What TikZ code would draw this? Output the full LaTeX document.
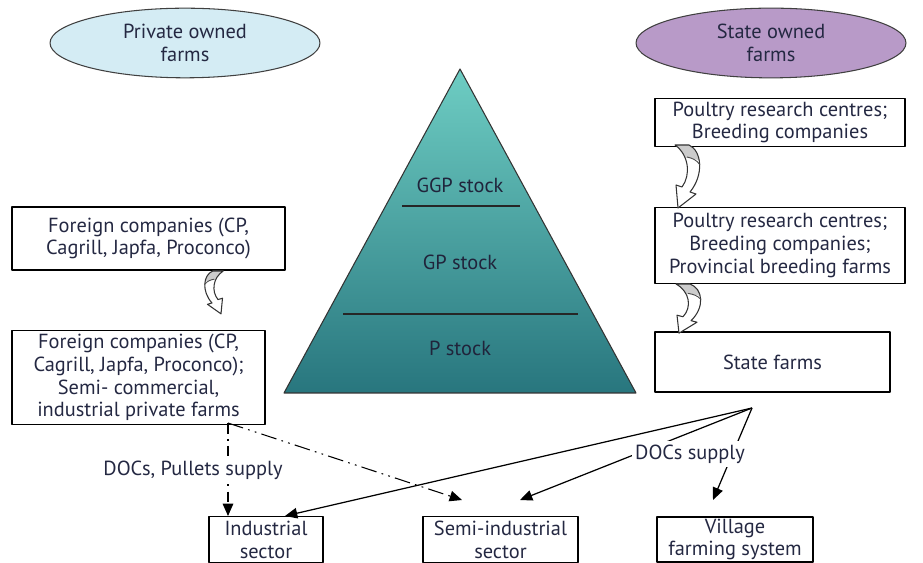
\documentclass[tikz,border=0pt]{standalone}
\usepackage{fontspec}
\setmainfont{PT Sans}
\usetikzlibrary{arrows.meta,shapes.geometric}
\definecolor{ink}{RGB}{36,40,66}
\definecolor{skyfill}{RGB}{212,236,244}
\definecolor{lilac}{RGB}{184,154,200}
\definecolor{tealtop}{RGB}{110,205,195}
\definecolor{tealmid}{RGB}{34,182,170}
\definecolor{tealbot}{RGB}{40,118,126}
% curled block arrow between two boxes
\tikzset{
  curlarrow/.pic={
    \begin{scope}
      \clip (7,0) .. controls (20,6) and (22,30) .. (8,47) -- (14,49) -- (-4,63)
        -- (-6,40) -- (0,42) .. controls (9,30) and (7,10) .. (-7,0) -- cycle;
      \fill[white] (-12,-2) rectangle (30,64);
      \fill[gray!40] (-12,-2) -- (30,-2) -- (30,22) .. controls (16,12) and (6,13) .. (-12,12) -- cycle;
    \end{scope}
    \draw[line width=0.6pt, black!80] (7,0) .. controls (20,6) and (22,30) .. (8,47) -- (14,49) -- (-4,63)
      -- (-6,40) -- (0,42) .. controls (9,30) and (7,10) .. (-7,0) -- cycle;
    \draw[line width=0.5pt, black!70] (5,12) .. controls (10,13) and (15,15) .. (18,20);
  }
}
\begin{document}
\begin{tikzpicture}[x=0.02cm, y=-0.02cm, font=\fontsize{11.6}{13}\selectfont, line join=round,
  >={Triangle[length=7pt,width=6pt]},
  farm/.style={ellipse, draw=black!75, line width=0.6pt, minimum width=5.4cm, minimum height=1.22cm, align=center, text=ink},
  box/.style={draw, line width=0.7pt, align=center, text=ink, inner sep=2pt},
  tag/.style={fill=white, inner sep=2pt, text=ink},
  level/.style={text=ink!90!black}]
\useasboundingbox (0,0) rectangle (923,563);

% ellipses on top
\node[farm, fill=skyfill] (private) at (185,43) {Private owned\\farms};
\node[farm, fill=lilac] (state) at (771,43) {State owned\\farms};

% pyramid
\shadedraw[draw=black!80, line width=0.6pt, top color=tealtop, middle color=tealmid, bottom color=tealbot]
  (460,69) -- (636,393) -- (284,393) -- cycle;
\draw[line width=0.7pt, black!85] (402,206) -- (520,206);
\draw[line width=0.7pt, black!85] (343,314) -- (578,314);
\node[level] (ggp) at (460,185) {GGP stock};
\node[level] (gp) at (460,262) {GP stock};
\node[level] (ps) at (460,348) {P stock};

% left column
\node[box, minimum width=5.46cm, minimum height=1.26cm] (frgn) at (148.5,238.5) {Foreign companies (CP,\\Cagrill, Japfa, Proconco)};
\node[box, minimum width=5.06cm, minimum height=1.8cm] (frgnpriv) at (138.5,377.5) {Foreign companies (CP,\\Cagrill, Japfa, Proconco);\\Semi- commercial,\\industrial private farms};

% right column
\node[box, minimum width=5cm, minimum height=0.9cm] (poultry) at (780,122.5) {Poultry research centres;\\Breeding companies};
\node[box, minimum width=5cm, minimum height=1.52cm] (breeding) at (780,245.5) {Poultry research centres;\\Breeding companies;\\Provincial breeding farms};
\node[box, minimum width=4.7cm, minimum height=1.2cm] (statef) at (772.5,362) {State farms};

% bottom sectors
\node[box, minimum width=2.28cm, minimum height=0.92cm] (indus) at (266,539.5) {Industrial\\sector};
\node[box, minimum width=3.1cm, minimum height=0.92cm] (semi) at (500.5,539.5) {Semi-industrial\\sector};
\node[box, minimum width=3.12cm, minimum height=0.9cm, inner sep=1pt] (village) at (735,539.5) {Village\\farming system};

% curled arrows
\pic at (682,145) {curlarrow};
\pic[yscale=0.78] at (683,284) {curlarrow};
\pic[xscale=-0.75, yscale=0.68] at (218,271) {curlarrow};

% supply lines
\coordinate (pvt) at (228,423);
\coordinate (fan) at (752,408);
\coordinate (indTipA) at (228,516);
\coordinate (indTipB) at (285,516);
\coordinate (semiTipA) at (462,500);
\coordinate (semiTipB) at (520,500);
\coordinate (villTip) at (713,500);

\draw[->, line width=0.6pt, dash pattern=on 6pt off 3pt on 1pt off 3pt] (pvt) -- (indTipA);
\draw[->, line width=0.6pt, dash pattern=on 9pt off 3pt on 1pt off 3pt on 1pt off 3pt] (pvt) -- (semiTipA);
\draw[->, line width=0.7pt] (fan) -- (indTipB);
\draw[->, line width=0.7pt] (fan) -- (semiTipB);
\draw[->, line width=0.7pt] (fan) -- (villTip);

\node[tag] (pullets) at (193,470) {DOCs, Pullets supply};
\node[tag] (docs) at (690,454) {DOCs supply};
\end{tikzpicture}
\end{document}
